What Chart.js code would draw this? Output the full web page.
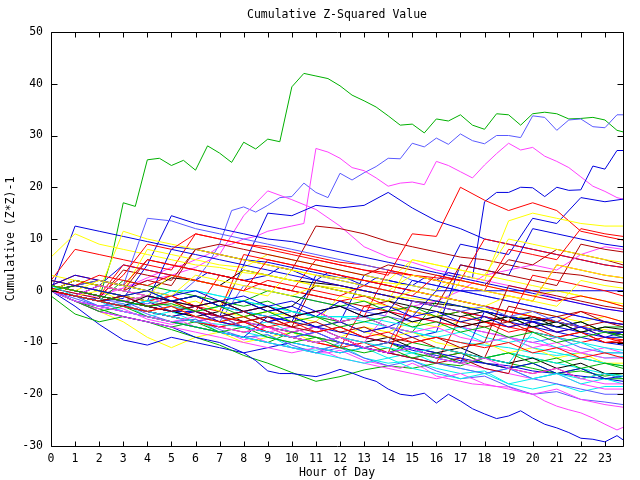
<!DOCTYPE html>
<html>
<head>
<meta charset="utf-8">
<title>Cumulative Z-Squared Value</title>
<script src="https://cdn.jsdelivr.net/npm/chart.js@4.4.1/dist/chart.umd.min.js"></script>
<style>
  html, body { margin: 0; padding: 0; background: #fff; }
</style>
</head>
<body>
<canvas id="zChart" width="640" height="480"></canvas>
<script>
// sample times (hour of day)
const hours = [0, 1, 2, 3, 4, 5, 6, 7, 8, 9, 10, 11, 12, 13, 14, 15, 16, 17, 18, 19, 20, 21, 22, 23, 23.75];
const halfHours = [0, 0.5, 1, 1.5, 2, 2.5, 3, 3.5, 4, 4.5,
                   5, 5.5, 6, 6.5, 7, 7.5, 8, 8.5, 9, 9.5,
                   10, 10.5, 11, 11.5, 12, 12.5, 13, 13.5, 14, 14.5,
                   15, 15.5, 16, 16.5, 17, 17.5, 18, 18.5, 19, 19.5,
                   20, 20.5, 21, 21.5, 22, 22.5, 23, 23.5, 23.75];
const xTicks = [0, 1, 2, 3, 4, 5, 6, 7, 8, 9, 10, 11, 12, 13, 14, 15, 16, 17, 18, 19, 20, 21, 22, 23];
const yTicks = [-30, -20, -10, 0, 10, 20, 30, 40, 50];
const chartTitle = 'Cumulative Z-Squared Value';
const xTitle = 'Hour of Day';
const yTitle = 'Cumulative (Z*Z)-1';

// the stand-out walks, read every half hour
const green1 = [0, -0.5, -1, -1.5, -1.5, 6, 17, 16.3, 25.3, 25.6,
                24.2, 25.2, 23.3, 28, 26.6, 24.8, 28.7, 27.4, 29.3, 28.8,
                39.4, 42, 41.5, 41, 39.6, 37.8, 36.7, 35.5, 33.8, 32,
                32.2, 30.5, 33.2, 32.8, 34, 32, 31.2, 34.2, 34, 32,
                34.2, 34.5, 34.2, 33.2, 33.3, 33.5, 33, 31, 30.7];
const slate1 = [0, -0.5, -1, -1.5, -1.5, -2, -2, -2.5, -2.5, -2,
                -1, 0, 2, 5, 9, 15.5, 16.2, 15.2, 16.5, 18,
                18.2, 20.8, 19, 18, 22.7, 21.4, 22.8, 24, 25.6, 25.5,
                28.5, 27.8, 29.5, 28.3, 30.3, 29, 28.4, 30, 30, 29.6,
                33.8, 33.5, 31, 33, 33.2, 31.7, 31.5, 34, 34];
const magenta1 = [0.5, 0, -0.5, -1, -1, 0, 0.5, 1.5, 2.5, 3.5,
                  4.5, 5, 6, 7, 8.5, 9, 10, 10.5, 11.5, 12,
                  12.5, 13, 27.5, 26.8, 25.6, 23.8, 23.2, 21.8, 20.2, 20.8,
                  21, 20.5, 25, 24.2, 23, 21.8, 24.3, 26.5, 28.5, 27.2,
                  27.7, 26, 25, 23.8, 22, 20.2, 19.2, 18, 17.7];
const blue1 = [0, 1, 2, 1.5, 1, 3, 5, 4.5, 4, 3.5,
               3, 2.5, 2, 3.5, 3, 2.5, 2, 2.5, 3, 4.5,
               4, 3, 2, 3.5, 3, 2, 1, 2.5, 2, 1.5,
               1, 2.5, 2, 3.5, 3, 2.5, 17.2, 19, 19, 20,
               19.9, 18.2, 20, 19.4, 19.5, 24.1, 23.5, 27.1, 27.1];
const blueLow = [0, -1, -2, -3, -4, -4.5, -5, -5.5, -6, -6.5,
                 -7, -8, -9, -9.5, -10, -11, -12, -13.5, -15.5, -16,
                 -16, -16.3, -16.6, -16, -15.2, -15.9, -16.8, -17.5, -19, -20,
                 -20.3, -19.8, -21.7, -20, -21.3, -22.8, -23.8, -24.7, -24.2, -23.2,
                 -24.6, -25.8, -26.5, -27.4, -28.5, -28.7, -29.2, -28, -28.8];
const magentaLow = [0, -1, -2, -3, -3.5, -3, -3.5, -4.5, -5.5, -6,
                    -6.5, -6, -7, -7.5, -8, -8.5, -9.5, -9, -10, -10.5,
                    -11, -11.5, -12, -12, -11.5, -12.5, -13.5, -14, -14.5, -15,
                    -14, -15, -16.5, -17, -17.5, -18, -18.2, -18.5, -18.6, -19.5,
                    -20, -21.3, -22.3, -23, -23.6, -24.6, -25.8, -26.9, -26.4];

// other walks, read every hour
const magenta2 = [1, 0, -1, 0.5, 2, 3, 4.5, 7, 14.5, 19.3, 17.6, 15.7, 12.5, 8.5, 6.5, 5.5, 4, 3, 2, 1, 0, -1.5, -2.5, -3.5, -4];
const blue2    = [1, 0, -1, -2, -1, -2, -3, -2, -4, -3, -5, -4, -6, 3, 2, 1, 0, 9, 8, 7, 14, 13, 18, 17.2, 17.7];
const blue3    = [0, -1, -2, -1.5, 5, 14.5, 13, 12, 11, 10, 9.5, 8.5, 7.5, 6.5, 5.5, 4.5, 3.5, 2.5, 1.5, 0.5, -0.5, -1.5, -2.5, -3.5, -4];
const blue4    = [0, 12.5, 11.5, 10.5, 9.5, 8.5, 8, 7, 6, 5.5, 4.5, 3.5, 2.5, 2, 1, 0, -1, -2, -3, -4, -5, -6, -7, -8, -8.5];
const blue5    = [1, 0, -1, -2, -3, -4, -4, -5, 5, 15, 14.5, 16.5, 16, 16.5, 19, 16, 13.5, 12, 10, 9, 8, 7, 6, 5, 4.5];
const yellow1  = [6.5, 11, 9, 8, 7, 6, 5, 4.5, 3.5, 3, 2, 1, 0.5, 0, -1, -1.5, -2, -3, -3.5, -4, -5, -6, -7, -7.5, -8];
const yellow2  = [2, 1, 0, 11.5, 10, 9, 8, 7, 6, 5, 4, 3, 2.5, 2, 1.5, 1, 0, 3, 2, 13.5, 15, 14, 13, 12.5, 12.5];
const red1     = [1, 0, -1, -2, -3, -2, -4, 3, 2, 1, 0, 6, 5, 4, 3, 11, 10.5, 20, 17.5, 15.5, 17, 15.5, 11.5, 10.5, 9.8];
const brown1   = [0.5, -0.5, -1.5, 4, 3, 2, 8, 7, 6, 5, 4, 12.5, 12, 11, 9.5, 8.5, 7.5, 6.5, 6, 5, 4, 3.5, 3, 2, 1.5];
const red2     = [2, 8, 7, 6, 5, 4, 11, 10, 9, 8.5, 7.5, 6.5, 5.5, 5, 4, 3, 2.5, 2, 10, 9, 8, 7, 6, 5, 4.5];
const black1   = [0, 1, 2, 1, 0, 2.5, 2, 1, 4, 3, 2, 1.5, 1, 0, -1, -2, -2.5, -3, -4, -5, -5.5, -6, -7, -8, -8.5];
const red3     = [1, 0, -1, 3, 9, 8, 11, 10, 9, 8, 7, 6, 5, 4, 3.5, 3, 2, 1, 0, -1, -2, 5, 4, 3, 2.5];
const brown2   = [0, -1, 1, 0, 2, 1, 8, 9, 8, 7, 6, 5, 4, 3, 5, 4, 3, 2, 1, 6, 5, 8, 7, 6, 5];
const yellow4  = [3, 2, 1, 0, 8, 7, 6, 5, 4.5, 7, 6, 5, 4, 3, 2, 6, 5, 4, 3, 2, 1, 0, -1, -2, -2.5];
const slate2   = [0, 1, 2, 1, 14, 13.5, 12, 11, 10, 9, 8, 7, 6, 5, 4, 2, 1, 0, -1, -2, -3, -4, -5, -6, -6.5];
const magenta3 = [0, -1, -2, -3, -2, -3, -4, -5, -4, -5, -4, -5, -6, -5, -4, -3, -2, 0, 3, 4, 5, 4, 7, 8.5, 8];
const red4     = [0, 1, 0, -1, -2, -1, -3, -2, -4, -3, -5, -4, -6, -5, 4, 3, 2, 1, 0, 8, 7, 6, 12, 11, 10.5];
const brown3   = [1, 0, -1, -2, -3, -4, -3, -5, -6, -5, -7, 2, 1, 0, -1, -2, -3, 5, 4, 3, 2, 1, 9, 8, 7.5];
const yellow5  = [0, -1, 0, -2, -1, -3, -4, -3, 4, 3, 2, 1, 0, -1, -2, 6, 5, 4, 3, 10, 9, 8, 7, 6, 5.5];
const blue6    = [0, -1, -2, -3, -2, -4, -3, -5, -4, -6, -5, -7, -6, -8, -7, -9, -8, 5, 4, 3, 12, 11, 10, 9, 8.5];

const slateLow = [0, -1.5, -3, -2.5, -4.5, -6, -5.5, -7.5, -9, -8.5, -10.5, -12, -11, -13, -14.5, -13.5, -15.5, -17, -16.5, -18.5, -20, -19.5, -21, -21.5, -22];
const greenLow = [0, -2, -3.5, -5, -6, -7.5, -9, -10.5, -12.5, -14, -15.8, -17.5, -16.6, -15.3, -14.5, -15, -14, -14.5, -13, -14, -15, -16, -15.5, -16.5, -16];
const green2   = [-1, -4.5, -6, -5, -6, -7, -6, -8, -9, -10, -8, -9, -10, -11, -12, -10, -11, -12, -13, -12, -13, -14, -13, -14, -15];
const blueLow2 = [0, -3, -6.5, -9.5, -10.5, -9, -10, -11, -12, -11, -10, -11, -12, -11, -10, -11.5, -12.5, -13.5, -14, -14.5, -15.5, -16, -16.5, -17, -17.5];
const cyan1    = [0, -1, -2, -1, -2, 0, 0, -1, -2, -3, -4, -5, -5, -5, -7, -8, -9, -10, -10.5, -11, -12, -12.5, -12, -13, -12.7];
const cyan2    = [0, -2, -3, -2.5, -5, -6, -5.5, -8, -9, -8.5, -11, -11.5, -10.5, -13, -14, -13.5, -15, -16, -15.5, -18, -19, -18, -19.5, -18.5, -18.5];
const yellow3  = [0, -2, -4, -6, -9, -11, -9, -8, -10, -9, -8, -10, -9, -7, -8, -6, -7, -6, -5, -6, -4, -5, -6, -5, -6];

// the main bundle
const pack1  = [0, -1, -2, -3, -4, -3, -5, -6, -5, -7, -6, -8, -7, -9, -8, -10, -9, -10, -11, -10, -12, -11, -13, -12, -13];
const pack2  = [1, 0, -1, -2, -3, -2.5, -4, -3, -5, -4, -6, -5, -7, -6, -5, -7, -6, -8, -7, -9, -8, -10, -9, -8, -9];
const pack3  = [2, 1, 0, -1, 0, -2, -1, -3, -2, -4, -3, -5, -2, -4, -3, -5, -4, -6, -5, -7, -6, -8, -7, -9, -8];
const pack4  = [0, -2, -3, -4, -5, -6, -5, -7, -8, -7, -9, -10, -9, -11, -12, -11, -13, -14, -13, -15, -16, -15, -17, -18, -18];
const pack5  = [1, -1, -2, -3, -4, -5, -6, -6.5, -7, -8, -9, -10, -9, -10, -11, -12, -11, -12, -13, -14, -8, -9, -10, -11, -11.5];
const pack6  = [0, -1, -2, -1, -3, -4, -3, -5, -4, -6, -7, -6, -8, -7, -9, -10, -9, -11, -10, 1, 0, -1, -2, -3, -3.5];
const pack7  = [1, 0, 2, 1, 0, -1, 3, 2, 1, 0, -1, 1, 0, -1, -2, 0, -1, -2, -3, -1, -2, -3, 2, 1, 0.5];
const pack8  = [0, -2, -3, -2, -4, -5, -6, -5, -7, -8, -9, -8, -10, -11, -10, -2, -3, -4, -3, -5, -4, -6, -7, -8, -9];
const pack9  = [0, -1, -2, -3, -1, -2, -3, -2, -4, -3, -5, -4, -3, -5, -4, -6, -5, -7, -6, -5, -7, -6, -8, -7, -7.5];
const pack10 = [2, 1, 3, 2, 1, 3, 2, 1, 0, 2, 1, 0, -1, 1, 0, -1, 3, 2, 1, 0, -1, -2, -1, -2, -3];
const pack11 = [0, -2, -4, -3, -5, -6, -7, -8, -7, -9, -10, -9, -11, -12, -11, -13, -12, -14, -13, -12, -14, -13, -15, -14, -14.5];
const pack12 = [1, 3, 2, 1, 0, -1, 0, -2, -1, -3, -2, -4, -3, -5, -4, 2, 1, 0, -1, -2, -3, -4, -5, -6, -6.5];
const pack13 = [0, -1, 1, 0, -1, -2, -3, -2, -4, -3, -5, -4, -6, -5, -7, -8, -7, -9, -10, -9, -11, -10, -12, -13, -13];
const pack14 = [0, -1, -2, -3, -2, 0, 0, -1, -2, -3, -4, -5, -5, -6, -7, -8, -9, -8, -10, -9, -11, -12, -13, -14, -14.5];
const pack15 = [1, 0, -1, -2, -3, -2, -4, -5, -6, -5, -7, -8, -7, -9, -10, -9, -11, -12, -13, -3, -4, -5, -4, -6, -6.5];
const pack16 = [0, 2, 1, 0, -1, 3, 2, 1, 0, -1, 4, 3, 2, 1, 0, 3, 2, 1, 0, -1, -2, 5, 4, 3, 2.5];
const pack17 = [0, -1, -2, -3, -4, -5, -6, -7, -6, -8, -9, -10, -11, -3, -4, -5, -6, -7, -6, -8, -7, -9, -8, -10, -9.5];
const pack18 = [0, -1, -2, -3, -4, -5, -4, -6, -7, -8, -9, -8, -10, -11, -12, -11, -13, -14, -4, -5, -6, -5, -7, -8, -8];
const pack19 = [0, -1, -2, -3, -2, -3, -4, -3, -4, -5, -4, -5, -5, -5, -6, -7, -8, -7, -9, -10, -9, -11, -10, -12, -12];
const pack20 = [0, -1, -2, -3, -4, -5, -6, -7, -8, -7, -9, -10, -9, -11, -12, -2, -3, -4, -5, -6, 3, 2, 1, 0, -1];
const pack21 = [1, 0, -1, -2, -3, -4, -3, -5, -4, -6, -5, -7, -6, -8, -7, -5, 0, 0, 0, 0, 0, 0, 0, 0, 0];
const pack22 = [0, 1, 0, -1, 0, -2, -1, -3, -2, 0, -1, -2, -3, -2, -4, -3, -5, -4, -6, -5, -7, -6, -8, -7, -7];
const pack23 = [0, -1, -2, -3, -4, -5, -6, -5, -7, -8, -9, -10, -9, -11, -12, -13, -14, -13, -15, -16, -5, -6, -7, -6, -7];
const pack24 = [1, 0, -1, 5, 4, 3, 2, 1, 0, 6, 5, 4, 3, 2, 1, 0, -1, -2, -3, -4, -5, -6, -4, -5, -6];
const pack25 = [0, -1, -2, -3, -4, -3, -5, -6, -5, -4, -5, -6, -1, -2, -3, -4, -5, 2, 1, 0, -1, 0, -1, -2, -3];
const pack26 = [0, -1, -2, -4, -5, -6, -7, -8, -9, -10, -11, -12, -13, -14, -13, -15, -16, -17, -16, -18, -17, -16, -17, -16, -16.5];
const pack27 = [0, -2, -4, -5, -6, -7, -8, -9, -10, -11, -12, -11, -13, -14, -15, -16, -17, -16, -18, -19, -20, -19, -21, -22, -22.5];
const pack28 = [0, -1, 1, 0, -1, -2, -1, -3, -4, -5, -6, 3, 2, 1, 0, -1, -2, -3, -4, -5, -6, -7, -8, -9, -9];
const pack29 = [0, -1, -3, -4, -5, -6, -7, -8, -9, -10, -11, -12, -10, -11, -12, -13, -14, -15, -16, -15, -17, -18, -19, -20, -20];
const pack30 = [0, 2, 1, 0, -1, -2, -1, -3, -2, -4, -3, 1, 0, -1, -2, -3, -4, -5, -4, -6, -5, -7, -6, -8, -8];
const pack31 = [1, 3, 2, 1, 6, 5, 4, 3, 2, 1, 0, -1, -2, -1, -3, -4, -5, -4, -6, -7, -6, -8, -7, -9, -9.5];
const pack32 = [0, -1, -2, 2, 1, 0, -1, -2, -3, -2, -4, -5, -6, -5, -7, -8, -2, -3, -4, -5, -6, -7, -6, -8, -8.5];
const pack33 = [0, -2, -3, -4, -5, -6, -7, -8, -9, -5, -6, -7, -8, -9, -10, -11, -12, -13, -14, -15, -14, -16, -15, -17, -16.5];
const pack34 = [1, 0, -1, -2, -1, -3, -4, -5, -6, -7, -8, -7, -9, -10, -4, -5, -6, -7, -8, -9, -10, -11, -12, -11, -12];
const pack35 = [0, -1, -3, -4, -5, -4, -6, -7, -8, -9, -10, -11, -12, -11, -13, -12, -14, -15, -16, -15, -17, -16, -18, -17, -18];
const pack36 = [0, 2, 1, 0, 6, 5, 4, 3, 2, 1, 0, -1, -2, -3, -2, -4, -5, -6, -7, -6, -8, -9, -8, -10, -10];
const pack37 = [2, 1, 0, -1, -2, -3, -2, -4, -5, -4, -6, -7, -6, -8, -9, -8, -10, -11, -10, -12, -11, -13, -12, -14, -14];
const pack38 = [0, -1, -2, -3, -4, -3, -5, -6, 1, 0, -1, -2, -3, -4, -5, -6, -5, -7, -8, -9, -10, -9, -11, -12, -12];
const pack39 = [0, -1, -2, -1, -3, -4, -5, -4, -6, -7, -8, -7, -9, -10, -9, -11, -12, -11, -13, -14, -13, -15, -14, -16, -16];
const pack40 = [0, -1, -2, -3, -4, -5, -4, -6, -7, -8, -9, -10, -11, -10, -12, -13, -14, -5, -6, -7, -8, -9, -10, -9, -10];
const pack41 = [1, 0, -1, -2, -3, -4, -5, -6, -5, -7, -8, -9, -10, -11, -10, -12, -13, -12, -14, -15, -14, -16, -15, -17, -17];
const pack42 = [0, 1, 0, -1, -2, 8, 7, 6, 5, 4, 3, 2, 1, 0, -1, -2, -3, -4, -5, -6, -7, -8, -9, -10, -10.5];
const pack43 = [0, -1, -2, -1, -3, -4, -5, -6, -7, -8, -7, -9, -10, -11, -12, -13, -12, -14, -15, -16, -17, -16, -18, -19, -19];
const pack44 = [1, 0, -1, -2, -3, -4, -5, -6, -7, -6, -8, -9, -10, -11, -12, -11, -13, -14, -13, -12, -13, -14, -15, -16, -17];
const pack45 = [0, 1, 0, -1, -2, -1, -3, -4, 7, 6, 5, 4, 3, 2, 1, 0, -1, -2, -3, -4, -5, -6, -7, -8, -8.5];
const pack46 = [0, -1, -2, -3, -4, -5, -6, -7, -6, -8, -9, -10, -9, -11, -12, -11, -13, -12, -14, -15, -16, -15, -17, -16, -17];

const RED = '#ff0000', GREEN = '#00b000', BLUE = '#0000e0', MAGENTA = '#ff40ff',
      CYAN = '#00eeee', BROWN = '#b00000', YELLOW = '#ffff00', SLATE = '#5a5aff', BLACK = '#000000';

// [values, colour, sample times]
const seriesList = [
    [pack1, RED], [pack2, GREEN], [pack3, BLUE], [pack4, MAGENTA], [pack5, CYAN], [pack6, BROWN],
    [pack7, YELLOW], [pack8, SLATE], [pack9, BLACK], [pack10, RED], [pack11, GREEN], [pack12, BLUE],
    [pack13, MAGENTA], [pack14, CYAN], [pack15, BROWN], [pack16, YELLOW], [pack17, RED], [pack18, BLUE],
    [pack19, CYAN], [pack20, RED], [pack21, BLUE], [pack22, GREEN], [pack23, BROWN], [pack24, RED],
    [pack25, YELLOW], [pack26, CYAN], [pack27, MAGENTA], [pack28, BLUE], [pack29, SLATE], [pack30, BLACK],
    [pack31, RED], [pack32, GREEN], [pack33, BLUE], [pack34, MAGENTA], [pack35, CYAN], [pack36, BROWN],
    [pack37, YELLOW], [pack38, SLATE], [pack39, BLACK], [pack40, RED], [pack41, GREEN], [pack42, BLUE],
    [pack43, MAGENTA], [pack44, CYAN], [pack45, RED], [pack46, BROWN],
    [slateLow, SLATE], [magentaLow, MAGENTA, halfHours], [blueLow, BLUE, halfHours], [greenLow, GREEN],
    [green2, GREEN], [blueLow2, BLUE], [cyan1, CYAN], [cyan2, CYAN], [yellow3, YELLOW],
    [red4, RED], [brown3, BROWN], [yellow5, YELLOW], [blue6, BLUE],
    [red3, RED], [brown2, BROWN], [yellow4, YELLOW], [slate2, SLATE], [magenta3, MAGENTA],
    [yellow1, YELLOW], [yellow2, YELLOW], [red1, RED], [brown1, BROWN], [red2, RED], [black1, BLACK],
    [blue3, BLUE], [blue4, BLUE], [blue5, BLUE], [blue2, BLUE], [blue1, BLUE, halfHours],
    [magenta2, MAGENTA], [magenta1, MAGENTA, halfHours], [slate1, SLATE, halfHours], [green1, GREEN, halfHours]
];

const FONT = { family: '"DejaVu Sans Mono", monospace', size: 11.5 };

// gnuplot-style frame with inward ticks on all four sides, plus the title
const framePlugin = {
    id: 'frame',
    afterDatasetsDraw(chart) {
        const { ctx, chartArea: a, scales } = chart;
        const L = Math.round(a.left) + 0.5, R = Math.round(a.right) + 0.5;
        const T = Math.round(a.top) + 0.5, B = Math.round(a.bottom) + 0.5;
        ctx.save();
        ctx.strokeStyle = '#000';
        ctx.lineWidth = 1;
        ctx.beginPath();
        ctx.rect(L, T, R - L, B - T);
        xTicks.forEach(v => {
            const px = Math.round(scales.x.getPixelForValue(v)) + 0.5;
            ctx.moveTo(px, B); ctx.lineTo(px, B - 5);
            ctx.moveTo(px, T); ctx.lineTo(px, T + 5);
        });
        yTicks.forEach(v => {
            const py = Math.round(scales.y.getPixelForValue(v)) + 0.5;
            ctx.moveTo(L, py); ctx.lineTo(L + 6, py);
            ctx.moveTo(R, py); ctx.lineTo(R - 6, py);
        });
        ctx.stroke();
        ctx.fillStyle = '#000';
        ctx.font = FONT.size + 'px ' + FONT.family;
        ctx.textAlign = 'center';
        ctx.textBaseline = 'middle';
        ctx.fillText(chartTitle, (a.left + a.right) / 2, 15.5);
        ctx.restore();
    }
};

const ctx = document.getElementById('zChart').getContext('2d');
window.zChart = new Chart(ctx, {
    type: 'line',
    data: {
        datasets: seriesList.map(([vals, color, times]) => ({
            data: (times || hours).map((h, i) => ({ x: h, y: vals[i] })),
            borderColor: color,
            borderWidth: 1,
            pointRadius: 0,
            tension: 0,
            fill: false
        }))
    },
    options: {
        responsive: false,
        animation: false,
        events: [],
        layout: { padding: { top: 32, right: 17, left: 0, bottom: 0 } },
        plugins: {
            legend: { display: false },
            tooltip: { enabled: false },
            title: { display: false }
        },
        scales: {
            x: {
                type: 'linear',
                min: 0,
                max: 23.75,
                afterBuildTicks: s => { s.ticks = xTicks.map(v => ({ value: v })); },
                afterFit: s => { s.height = 34; },
                grid: { display: false, drawTicks: false },
                border: { display: false },
                ticks: { color: '#000', font: FONT, padding: 6, maxRotation: 0, autoSkip: false },
                title: { display: true, text: xTitle, color: '#000', font: FONT, padding: { top: 0, bottom: 0 } }
            },
            y: {
                min: -30,
                max: 50,
                afterBuildTicks: s => { s.ticks = yTicks.map(v => ({ value: v })); },
                afterFit: s => { s.width = 51; },
                grid: { display: false, drawTicks: false },
                border: { display: false },
                ticks: { color: '#000', font: FONT, padding: 8 },
                title: { display: true, text: yTitle, color: '#000', font: FONT, padding: { top: 4, bottom: 4 } }
            }
        }
    },
    plugins: [framePlugin]
});
</script>
</body>
</html>
